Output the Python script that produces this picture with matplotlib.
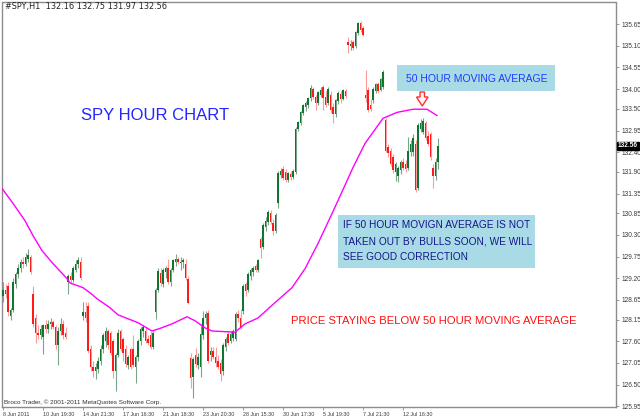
import matplotlib
matplotlib.use("Agg")
import matplotlib.pyplot as plt
from matplotlib.patches import Rectangle, Polygon

# ---------------- data ----------------
opens = [128.75,128.90,129.00,128.25,128.40,129.05,129.30,129.45,129.60,129.55,
         129.70,129.75,128.80,128.20,127.80,127.75,127.70,128.00,127.90,128.05,
         128.10,127.95,127.50,127.85,128.05,127.80,129.10,129.25,129.15,129.40,
         129.55,129.60,128.25,128.35,128.50,127.40,126.95,126.85,126.90,127.10,
         127.40,127.60,127.85,127.80,127.60,126.85,127.25,127.85,127.65,127.40,
         127.00,127.40,127.40,126.95,127.20,127.60,127.85,127.85,127.65,127.75,
         127.45,128.33,128.90,129.34,129.05,129.35,129.45,129.10,129.40,129.60,
         129.70,129.58,129.60,129.57,129.19,127.18,126.70,127.25,127.00,126.95,
         127.75,128.20,128.32,127.25,127.35,127.20,127.10,127.05,126.85,127.45,
         127.79,127.60,127.68,127.66,128.30,128.20,128.37,129.06,128.90,129.25,
         129.35,129.50,129.40,130.20,130.00,130.50,130.62,130.85,130.60,130.40,
         131.10,131.81,131.98,131.90,131.70,131.85,131.78,131.90,133.00,133.15,
         133.40,133.55,133.60,133.77,134.00,133.79,133.64,133.85,134.05,133.80,
         133.65,133.84,133.55,133.38,133.70,133.88,133.76,133.95,135.20,135.10,
         135.20,135.10,135.42,135.68,135.55,133.85,133.97,133.60,133.72,133.95,
         134.12,133.98,134.05,133.21,132.52,132.44,132.27,131.90,131.80,131.95,
         132.15,132.10,132.00,132.40,132.40,132.62,131.50,133.00,132.90,133.13,
         132.80,132.85,132.00,131.80,132.16]
highs = [129.10,129.05,129.10,128.45,129.20,129.35,129.55,129.70,129.75,129.85,
         129.95,129.80,129.00,128.30,128.00,128.00,128.05,128.15,128.15,128.20,
         128.15,128.00,127.95,128.20,128.15,127.95,129.30,129.35,129.50,129.65,
         129.75,129.75,128.60,128.60,128.60,127.50,127.10,127.05,127.20,127.50,
         127.80,127.95,127.90,127.85,127.65,127.30,127.90,127.90,127.70,127.50,
         127.25,127.45,127.75,127.25,127.65,127.95,128.00,127.95,127.75,127.85,
         127.85,128.95,129.47,129.45,129.45,129.50,129.70,129.45,129.70,129.82,
         129.75,129.75,129.72,129.70,129.25,127.30,127.20,127.43,127.30,128.03,
         128.37,128.37,128.40,127.45,127.45,127.45,127.25,127.15,127.55,127.70,
         127.85,127.85,127.90,128.35,128.40,128.42,129.05,129.10,129.35,129.45,
         129.52,129.55,129.70,130.25,130.60,130.75,130.92,130.92,130.70,130.85,
         131.92,132.00,132.05,131.98,131.90,131.92,131.98,133.05,133.20,133.45,
         133.62,133.70,133.80,134.10,134.05,133.85,133.95,134.05,134.10,133.95,
         134.05,133.95,133.65,133.75,133.95,133.96,134.00,134.00,135.32,135.25,
         135.25,135.48,135.70,135.72,135.60,134.48,134.05,133.75,134.05,134.15,
         134.18,134.28,134.48,133.26,132.60,132.50,132.35,132.15,132.05,132.20,
         132.25,132.20,132.78,132.70,132.85,132.70,133.15,133.25,133.26,133.20,
         132.95,132.90,132.10,132.25,132.75]
lows = [128.60,128.70,128.25,128.15,128.35,128.95,129.20,129.35,129.45,129.50,
        129.60,129.30,127.95,127.55,127.65,127.65,127.28,127.80,127.80,127.90,
        127.90,127.40,127.00,127.75,127.65,127.65,128.80,129.05,129.10,129.35,
        129.45,129.15,128.15,128.10,127.30,126.85,126.70,126.65,126.80,127.00,
        127.30,127.45,127.40,127.25,126.67,126.34,127.20,127.35,127.10,126.95,
        126.90,126.90,126.95,126.55,127.10,127.50,127.70,127.55,127.50,127.40,
        127.40,128.17,128.85,129.00,128.98,129.20,129.05,129.00,129.35,129.50,
        129.55,129.40,129.45,129.15,128.55,126.40,126.16,126.95,126.90,126.70,
        127.65,128.05,127.05,127.10,127.15,126.95,126.90,126.60,126.75,127.35,
        127.50,127.55,127.60,127.60,128.10,127.90,128.30,128.76,128.85,129.15,
        129.25,129.35,129.35,129.72,129.95,130.40,130.55,130.58,130.30,130.35,
        130.99,131.75,131.70,131.65,131.65,131.70,131.72,131.85,132.95,133.10,
        133.35,133.45,133.52,133.70,133.75,133.46,133.60,133.80,133.46,133.55,
        133.60,133.40,133.13,133.30,133.62,133.66,133.72,133.78,134.91,135.00,
        135.00,135.05,135.38,135.45,135.35,133.67,133.41,133.45,133.65,133.90,
        133.90,133.95,134.00,132.40,132.27,132.05,131.86,131.68,131.63,131.85,
        131.95,131.90,131.95,132.30,132.30,131.40,131.45,132.90,132.85,132.70,
        132.55,132.20,131.50,131.70,131.97]
closes = [128.90,128.80,128.35,128.40,129.10,129.30,129.45,129.60,129.55,129.75,
          129.80,129.35,128.05,127.80,127.75,127.90,128.00,127.90,128.05,128.10,
          127.95,127.50,127.85,128.05,127.75,127.70,129.25,129.15,129.45,129.55,
          129.65,129.20,128.35,128.20,127.35,126.95,126.85,126.95,127.10,127.40,
          127.75,127.85,127.50,127.30,126.85,127.25,127.80,127.40,127.30,127.02,
          127.20,126.95,127.00,127.20,127.60,127.90,127.95,127.60,127.55,127.45,
          127.80,128.90,129.39,129.08,129.40,129.45,129.10,129.40,129.65,129.70,
          129.60,129.62,129.65,129.20,128.57,126.67,127.15,127.02,127.20,127.79,
          128.20,128.30,127.10,127.35,127.20,127.05,126.95,126.77,127.50,127.65,
          127.55,127.79,127.85,128.30,128.20,127.95,129.00,128.88,129.30,129.40,
          129.47,129.40,129.65,129.97,130.55,130.66,130.87,130.62,130.40,130.80,
          131.86,131.93,131.75,131.70,131.86,131.78,131.93,133.00,133.16,133.41,
          133.59,133.65,133.77,134.02,133.80,133.64,133.92,133.97,133.77,133.60,
          134.00,133.46,133.38,133.72,133.90,133.76,133.97,133.83,135.12,135.15,
          135.05,135.45,135.68,135.50,135.37,133.77,133.46,133.50,134.00,134.12,
          133.95,134.25,134.43,132.44,132.37,132.11,131.94,132.11,132.01,132.15,
          132.00,131.98,132.44,132.60,132.77,131.43,133.10,133.15,133.20,132.77,
          132.60,132.27,131.80,132.16,132.56]

# 50-hour moving average (bar index, price)
ma_bar = [-0.4, 4, 8.8, 12, 15.6, 20, 25.6, 26.8, 32, 34.8, 37.6, 42.8, 46, 54,
          59.6, 63, 67.6, 73.6, 76.8, 80.8, 83.6, 92.8, 96.8, 102, 108.8, 115.6,
          120.8, 126, 131.6, 134, 140, 144.8, 152, 157.6, 164, 169.6, 173.6]
ma_val = [131.48, 131.10, 130.66, 130.28, 129.90, 129.57, 129.19, 129.08, 128.96,
          128.83, 128.68, 128.45, 128.27, 128.07, 127.86, 127.93, 128.04, 128.22,
          128.12, 127.94, 127.86, 127.83, 128.04, 128.19, 128.58, 128.96, 129.44,
          130.08, 130.84, 131.17, 132.01, 132.62, 133.26, 133.41, 133.49, 133.49,
          133.33]

x_tick_bars = [0, 16, 32, 48, 64, 80, 96, 112, 128, 144, 160]
x_tick_labels = ["8 Jun 2011", "10 Jun 19:30", "14 Jun 21:30", "17 Jun 16:30",
                 "21 Jun 18:30", "23 Jun 20:30", "28 Jun 15:30", "30 Jun 17:30",
                 "5 Jul 19:30", "7 Jul 21:30", "12 Jul 16:30"]
y_ticks = [135.65, 135.10, 134.55, 134.00, 133.50, 132.95, 132.40, 131.90, 131.35,
           130.85, 130.30, 129.75, 129.20, 128.65, 128.15, 127.60, 127.05, 126.50,
           125.95]

# ---------------- figure ----------------
W, H = 640, 419
fig = plt.figure(figsize=(W / 100, H / 100), dpi=100)
fig.patch.set_facecolor("white")

def fx(x):
    return x / W

def fy(y):
    return 1 - y / H

left, right, top, bottom = 2, 616, 2.5, 407
ax = fig.add_axes([fx(left), fy(bottom), fx(right) - fx(left), fy(top) - fy(bottom)])
ax.set_xlim(-0.4, 245.2)
ax.set_ylim(125.93, 136.20)

for s in ax.spines.values():
    s.set_color("#8c8c8c")
    s.set_linewidth(1.0)

UP_BODY, UP_WICK = "#0f7530", "#7aa586"
DN_BODY, DN_WICK = "#ff1a1a", "#ff9a9a"

idx = list(range(len(closes)))
for i in idx:
    o, h, l, c = opens[i], highs[i], lows[i], closes[i]
    up = c >= o
    ax.vlines(i, l, h, color=UP_WICK if up else DN_WICK, lw=0.8, zorder=2)
    lo_, hi_ = min(o, c), max(o, c)
    hgt = max(hi_ - lo_, 0.02)
    ax.bar(i, hgt, bottom=lo_, width=0.72, color=UP_BODY if up else DN_BODY,
           linewidth=0, zorder=3)

ax.plot(ma_bar, ma_val, color="#ff00ff", lw=1.0, zorder=4)

# ticks
TICKFONT = "Liberation Sans"
ax.yaxis.tick_right()
ax.set_yticks(y_ticks)
ax.set_yticklabels([f"{v:.2f}" for v in y_ticks], fontsize=4.7, family=TICKFONT)
ax.set_xticks(x_tick_bars)
ax.set_xticklabels(x_tick_labels, ha="left", fontsize=3.9, family=TICKFONT)
ax.tick_params(axis="both", direction="out", length=2.5, width=0.6,
               colors="#8c8c8c", labelcolor="#3a3a3a")
ax.tick_params(axis="y", pad=1.5)
ax.tick_params(axis="x", pad=1.0)

# last price label
ax.annotate("132.56", xy=(1.0, closes[-1]), xycoords=("axes fraction", "data"),
            xytext=(1.3, 0), textcoords="offset points", ha="left", va="center",
            fontsize=4.7, family=TICKFONT, color="white", fontweight="bold",
            bbox=dict(boxstyle="square,pad=0.12", fc="black", ec="black"),
            annotation_clip=False, zorder=10)

# header / footer
fig.text(fx(5), fy(7), "#SPY,H1  132.16 132.75 131.97 132.56", fontsize=5.9,
         color="#222222", ha="left", va="center")
fig.text(fx(3.5), fy(402), "Broco Trader, \u00a9 2001-2011 MetaQuotes Software Corp.",
         fontsize=4.6, family=TICKFONT, color="#333333", ha="left", va="center")

# annotations
fig.text(fx(155), fy(116), "SPY HOUR CHART", fontsize=12, color="#2424ff",
         family="Liberation Sans", ha="center", va="center")

box_c = "#a9dbe6"
fig.patches.append(Rectangle((fx(397), fy(91)), fx(555) - fx(397), fy(65) - fy(91),
                             transform=fig.transFigure, fc=box_c, ec="none", zorder=5))
fig.text(fx(406), fy(78.5), "50 HOUR MOVING AVERAGE", fontsize=7.5, color="#1f3aff",
         family="Liberation Sans", ha="left", va="center", zorder=6)

arrow_px = [(420, 92), (424.5, 92), (424.5, 97), (428, 97), (422.3, 106),
            (416.5, 97), (420, 97)]
fig.patches.append(Polygon([(fx(x), fy(y)) for x, y in arrow_px], closed=True,
                           transform=fig.transFigure, fc="#fff4f4", ec="#ff3030",
                           lw=1.0, zorder=6))

fig.patches.append(Rectangle((fx(338), fy(268)), fx(535) - fx(338), fy(215) - fy(268),
                             transform=fig.transFigure, fc=box_c, ec="none", zorder=5))
for k, line in enumerate(["IF 50 HOUR MOVIGN AVERAGE IS NOT",
                          "TAKEN OUT BY BULLS SOON, WE WILL",
                          "SEE GOOD CORRECTION"]):
    fig.text(fx(343), fy(225 + 16 * k), line, fontsize=7.25, color="#15158c",
             family="Liberation Sans", ha="left", va="center", zorder=6)

fig.text(fx(291), fy(321), "PRICE STAYING BELOW 50 HOUR MOVING AVERAGE", fontsize=8.1,
         color="#ff1010", family="Liberation Sans", ha="left", va="center")

fig.savefig("out.png", dpi=100)
